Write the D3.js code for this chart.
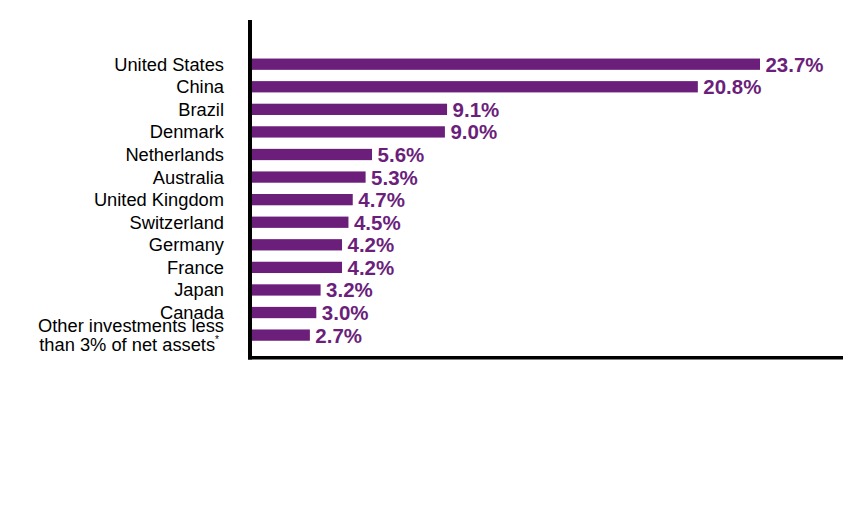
<!DOCTYPE html>
<html>
<head>
<meta charset="utf-8">
<script src="https://cdn.jsdelivr.net/npm/d3@7"></script>
<style>
  html, body { margin: 0; padding: 0; background: #fff; }
  svg { display: block; }
</style>
</head>
<body>
<svg id="chart" width="864" height="516"></svg>
<script>
const categories = ["United States","China","Brazil","Denmark","Netherlands","Australia","United Kingdom","Switzerland","Germany","France","Japan","Canada","Other investments less|than 3% of net assets"];
const values = [23.7, 20.8, 9.1, 9.0, 5.6, 5.3, 4.7, 4.5, 4.2, 4.2, 3.2, 3.0, 2.7];
const valueLabels = ["23.7%","20.8%","9.1%","9.0%","5.6%","5.3%","4.7%","4.5%","4.2%","4.2%","3.2%","3.0%","2.7%"];

const purple = "#6b1f7b";
const svg = d3.select("#chart");

const x = d3.scaleLinear().domain([0, d3.max(values)]).range([252, 760]);
const y = d3.scaleBand().domain(categories).range([52.9, 346.4]).paddingInner(0.5).paddingOuter(0.25);

const data = categories.map((c, i) => ({c, v: values[i], l: valueLabels[i]}));

// bars
svg.selectAll("rect.bar").data(data).enter().append("rect")
  .attr("class","bar")
  .attr("x", x(0))
  .attr("y", d => y(d.c))
  .attr("width", d => x(d.v) - x(0))
  .attr("height", y.bandwidth())
  .attr("fill", purple);

// value labels (fit into a label box of max 58px)
svg.selectAll("text.val").data(data).enter().append("text")
  .attr("class","val")
  .attr("x", d => x(d.v) + 5.5)
  .attr("y", d => y(d.c) + y.bandwidth()/2 + 7.5)
  .attr("font-family", "Liberation Sans, Arial, sans-serif")
  .attr("font-weight", "bold")
  .attr("font-size", "20.5px")
  .attr("fill", purple)
  .text(d => d.l)
  .each(function() {
    const w = this.getComputedTextLength();
    if (w > 58) {
      d3.select(this).attr("textLength", 58).attr("lengthAdjust", "spacingAndGlyphs");
    }
  });

// category labels
const cat = svg.selectAll("text.cat").data(data).enter().append("text")
  .attr("class","cat")
  .attr("x", 224)
  .attr("text-anchor","end")
  .attr("font-family", "Liberation Sans, Arial, sans-serif")
  .attr("font-size", "18.3px")
  .attr("fill", "#000");

cat.each(function(d) {
  const t = d3.select(this);
  const lines = d.c.split("|");
  const cy = y(d.c) + y.bandwidth()/2;
  if (lines.length === 1) {
    t.attr("y", cy + 6.5).text(lines[0]);
  } else {
    const pitch = 19.5;
    const start = cy - 3.5;
    lines.forEach((ln, i) => {
      t.append("tspan").attr("x", i === lines.length - 1 ? 219 : 224).attr("y", start + i*pitch).text(ln);
    });
    t.append("tspan").attr("font-size","10px").attr("dy", -8).text("*");
  }
});

// axes lines
svg.append("line").attr("x1", 250).attr("x2", 250).attr("y1", 20).attr("y2", 359.5)
  .attr("stroke","#000").attr("stroke-width",4);
svg.append("line").attr("x1", 248).attr("x2", 843).attr("y1", 357.8).attr("y2", 357.8)
  .attr("stroke","#000").attr("stroke-width",3.5);
</script>
</body>
</html>
